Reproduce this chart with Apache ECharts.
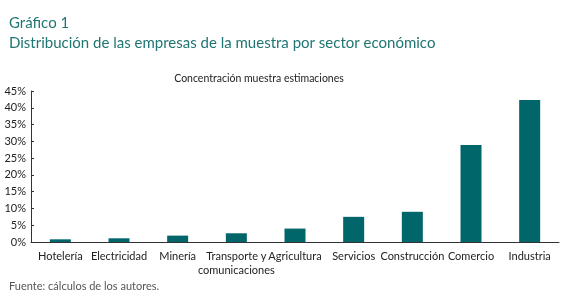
<!DOCTYPE html>
<html>
<head>
<meta charset="utf-8">
<script src="https://cdn.jsdelivr.net/npm/echarts@6/dist/echarts.min.js"></script>
<style>
  html, body { margin: 0; padding: 0; background: #fff; }
  #chart { width: 570px; height: 293px; }
</style>
</head>
<body>
<div id="chart"></div>
<script>
var sectores = ['Hotelería', 'Electricidad', 'Minería', 'Transporte y\ncomunicaciones', 'Agricultura',
  'Servicios', 'Construcción', 'Comercio', 'Industria'];
var concentracion = [0.8, 1.1, 1.9, 2.6, 4.0, 7.5, 9.0, 28.9, 42.3];

var font = 'Lato';
var myChart = echarts.init(document.getElementById('chart'));

var option = {
  animation: false,
  textStyle: { fontFamily: font },
  title: [{
    text: 'Gráfico 1\nDistribución de las empresas de la muestra por sector económico',
    left: 4, top: 8,
    textStyle: { fontFamily: font, fontSize: 15, fontWeight: 'normal', color: '#1f7672', lineHeight: 20 }
  }, {
    text: 'Concentración muestra estimaciones',
    left: 254, top: 68, textAlign: 'center',
    textStyle: { fontFamily: font, fontSize: 10.5, fontWeight: 'normal', color: '#222' }
  }, {
    text: 'Fuente: cálculos de los autores.',
    left: 4, top: 276,
    textStyle: { fontFamily: font, fontSize: 11, fontWeight: 'normal', color: '#555' }
  }],
  grid: { left: 31, right: 11, top: 91, bottom: 51 },
  xAxis: {
    type: 'category',
    data: sectores,
    axisLine: { lineStyle: { color: '#333', width: 1 } },
    axisTick: { inside: true, length: 4, lineStyle: { color: '#333' } },
    axisLabel: { color: '#222', fontSize: 11, fontFamily: font, margin: 7, lineHeight: 14, interval: 0 }
  },
  yAxis: {
    type: 'value',
    min: 0, max: 45, interval: 5,
    axisLine: { show: true, lineStyle: { color: '#333', width: 1 } },
    axisTick: { show: true, inside: true, length: 3, lineStyle: { color: '#333' } },
    splitLine: { show: false },
    axisLabel: { color: '#222', fontSize: 11, fontFamily: font, margin: 5, formatter: '{value}%' }
  },
  series: [{
    type: 'bar',
    data: concentracion,
    barWidth: 21,
    itemStyle: { color: '#00666a' }
  }]
};

myChart.setOption(option);
</script>
</body>
</html>
